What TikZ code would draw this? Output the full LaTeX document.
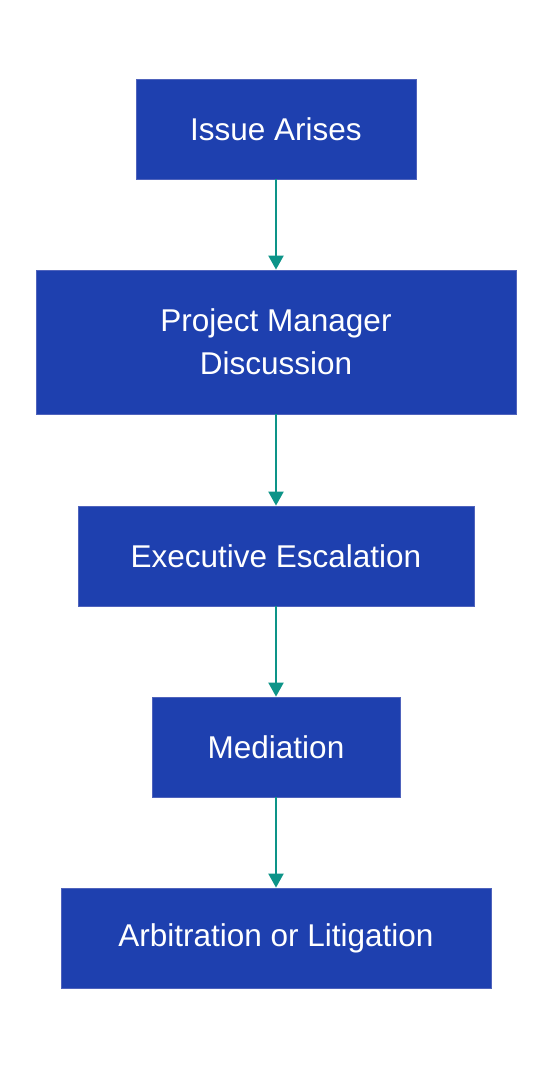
\documentclass[tikz,border=0pt]{standalone}
\usepackage{fontspec}
\setmainfont{Liberation Sans}
\usetikzlibrary{arrows.meta}
\definecolor{boxblue}{HTML}{1E40AF}
\definecolor{boxedge}{HTML}{4F63BC}
\definecolor{arrowteal}{HTML}{0D9488}
\tikzset{
  flowbox/.style={draw=boxedge, line width=0.8pt, fill=boxblue, text=white, inner sep=0pt,
    font=\fontsize{31.5}{43}\selectfont, align=center},
  flowarrow/.style={draw=arrowteal, line width=2.2pt, -{Triangle[width=15pt,length=14pt]}}
}
\begin{document}
\begin{tikzpicture}[x=1pt,y=-1pt]
\useasboundingbox (0,0) rectangle (552,1068);
\node[flowbox, minimum width=280pt, minimum height=100pt] (a) at (276,129) {Issue Arises};
\node[flowbox, minimum width=480pt, minimum height=144pt] (b) at (276,342) {Project Manager\\Discussion};
\node[flowbox, minimum width=396pt, minimum height=100pt] (c) at (276,556) {Executive Escalation};
\node[flowbox, minimum width=248pt, minimum height=100pt] (d) at (276,747) {Mediation};
\node[flowbox, minimum width=430pt, minimum height=100pt] (e) at (276,938) {Arbitration or Litigation};
\draw[flowarrow] (a.south) -- (b.north);
\draw[flowarrow] (b.south) -- (c.north);
\draw[flowarrow] (c.south) -- (d.north);
\draw[flowarrow] (d.south) -- (e.north);
\end{tikzpicture}
\end{document}
